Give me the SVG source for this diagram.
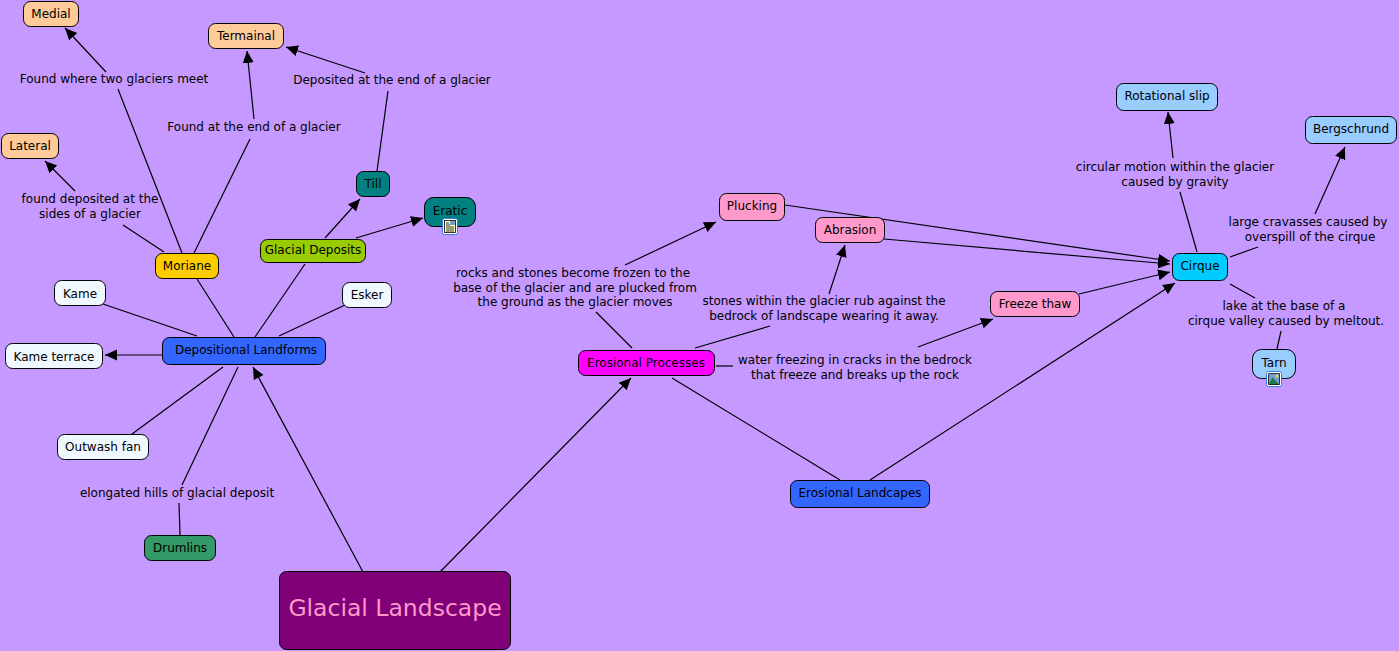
<svg xmlns="http://www.w3.org/2000/svg" width="1399" height="651" viewBox="0 0 1399 651">
<style>
text{font-family:"DejaVu Sans",Verdana,sans-serif;font-size:12px;fill:#000;text-anchor:middle}
.n rect{stroke:#000;stroke-width:1}
.n rect.ico{stroke:#3b78d8;fill:#fff}
.n rect.pap{fill:#ffffcc;stroke:#000;stroke-width:.8}
.n rect.pic{fill:#6f9fd0;stroke:none}
.c line{stroke:#000;stroke-width:1.2}
.c line.a{marker-end:url(#ah)}
</style>
<defs><marker id="ah" markerUnits="userSpaceOnUse" markerWidth="14" markerHeight="14" refX="12" refY="6" orient="auto"><path d="M0,0.500L12,6L0,11.500z" fill="#000"/></marker></defs>
<rect width="1399" height="651" fill="#c599ff"/>
<g class="c" id="connectors">
<line class="a" x1="363" y1="572" x2="253" y2="367"/>
<line class="a" x1="440" y1="572" x2="631" y2="378"/>
<line x1="234" y1="337" x2="197" y2="279"/>
<line x1="255" y1="337" x2="305" y2="264"/>
<line x1="197" y1="336" x2="103" y2="304"/>
<line x1="279" y1="336" x2="345" y2="305"/>
<line class="a" x1="162" y1="355" x2="105" y2="355"/>
<line x1="223" y1="367" x2="132" y2="434"/>
<line x1="238" y1="367" x2="182" y2="485"/>
<line x1="179" y1="503" x2="180" y2="535"/>
<line x1="164" y1="252" x2="123" y2="225"/>
<line class="a" x1="75" y1="191" x2="45" y2="161"/>
<line x1="182" y1="253" x2="118" y2="89"/>
<line class="a" x1="106" y1="72" x2="65" y2="28"/>
<line x1="194" y1="253" x2="250" y2="139"/>
<line class="a" x1="254" y1="119" x2="247" y2="51"/>
<line x1="377" y1="171" x2="388" y2="91"/>
<line class="a" x1="365" y1="73" x2="286" y2="47"/>
<line class="a" x1="325" y1="238" x2="360" y2="199"/>
<line class="a" x1="356" y1="238" x2="423" y2="218"/>
<line x1="632" y1="348" x2="596" y2="312"/>
<line class="a" x1="625" y1="265" x2="716" y2="222"/>
<line x1="695" y1="348" x2="770" y2="326"/>
<line class="a" x1="829" y1="294" x2="845" y2="245"/>
<line x1="716" y1="366" x2="733" y2="366"/>
<line class="a" x1="918" y1="347" x2="993" y2="319"/>
<line x1="672" y1="378" x2="840" y2="480"/>
<line class="a" x1="870" y1="480" x2="1175" y2="283"/>
<line class="a" x1="785" y1="205" x2="1170" y2="261"/>
<line class="a" x1="884" y1="239" x2="1170" y2="264"/>
<line class="a" x1="1079" y1="294" x2="1170" y2="272"/>
<line x1="1197" y1="252" x2="1180" y2="192"/>
<line class="a" x1="1173" y1="158" x2="1168" y2="112"/>
<line x1="1230" y1="257" x2="1258" y2="247"/>
<line class="a" x1="1315" y1="214" x2="1345" y2="147"/>
<line x1="1230" y1="284" x2="1255" y2="298"/>
<line x1="1281" y1="331" x2="1277" y2="349"/>
</g>
<g id="n-glacial" class="n"><rect x="279.500" y="571.500" width="231" height="78" rx="7" fill="#800077"/><text x="395" y="616" style="font-size:23.500px;fill:#ff99cc">Glacial Landscape</text></g>
<g id="n-dep" class="n"><rect x="162.500" y="337.500" width="163" height="27" rx="7" fill="#3366ff"/><text x="246" y="354">Depositional Landforms</text></g>
<g id="n-ero" class="n"><rect x="578.500" y="350.500" width="136" height="25" rx="7" fill="#ff00ff"/><text x="646" y="367">Erosional Processes</text></g>
<g id="n-erol" class="n"><rect x="790.500" y="480.500" width="139" height="27" rx="7" fill="#3366ff"/><text x="860" y="497">Erosional Landcapes</text></g>
<g id="n-medial" class="n"><rect x="23.500" y="1.500" width="55" height="25" rx="7" fill="#ffcc99"/><text x="51" y="18">Medial</text></g>
<g id="n-termainal" class="n"><rect x="208.500" y="23.500" width="75" height="25" rx="7" fill="#ffcc99"/><text x="246" y="40">Termainal</text></g>
<g id="n-lateral" class="n"><rect x="1.500" y="133.500" width="57" height="25" rx="7" fill="#ffcc99"/><text x="30" y="150">Lateral</text></g>
<g id="n-moriane" class="n"><rect x="155.500" y="253.500" width="63" height="25" rx="7" fill="#ffcc00"/><text x="187" y="270">Moriane</text></g>
<g id="n-gd" class="n"><rect x="260.500" y="239.500" width="105" height="23" rx="7" fill="#99cc00"/><text x="313" y="254">Glacial Deposits</text></g>
<g id="n-till" class="n"><rect x="356.500" y="171.500" width="33" height="25" rx="7" fill="#008080"/><text x="373" y="188">Till</text></g>
<g id="n-eratic" class="n"><rect x="424.500" y="197.500" width="51" height="29" rx="9" fill="#008080"/><text x="450" y="215">Eratic</text>
<rect class="ico" x="442.500" y="218.500" width="15" height="16" rx="2"/><rect class="pap" x="444.500" y="220.500" width="11" height="12"/><path d="M446,225h4M446,227h8M446,229h8M446,231h8M446,223h3" stroke="#000" fill="none" stroke-width=".8"/><rect class="pic" x="450" y="221" width="5" height="4"/></g>
<g id="n-kame" class="n"><rect x="54.500" y="280.500" width="51" height="25" rx="7" fill="#f0f8ff"/><text x="80" y="298">Kame</text></g>
<g id="n-esker" class="n"><rect x="342.500" y="282.500" width="49" height="25" rx="7" fill="#f0f8ff"/><text x="367" y="299">Esker</text></g>
<g id="n-kt" class="n"><rect x="5.500" y="343.500" width="97" height="25" rx="7" fill="#f0f8ff"/><text x="54" y="361">Kame terrace</text></g>
<g id="n-of" class="n"><rect x="57.500" y="434.500" width="91" height="25" rx="7" fill="#f0f8ff"/><text x="103" y="451">Outwash fan</text></g>
<g id="n-drumlins" class="n"><rect x="144.500" y="535.500" width="71" height="25" rx="7" fill="#339966"/><text x="180" y="552">Drumlins</text></g>
<g id="n-plucking" class="n"><rect x="719.500" y="193.500" width="65" height="27" rx="7" fill="#ff99cc"/><text x="752" y="210">Plucking</text></g>
<g id="n-abrasion" class="n"><rect x="815.500" y="217.500" width="69" height="25" rx="7" fill="#ff99cc"/><text x="850" y="234">Abrasion</text></g>
<g id="n-ft" class="n"><rect x="990.500" y="291.500" width="89" height="25" rx="7" fill="#ff99cc"/><text x="1035" y="308">Freeze thaw</text></g>
<g id="n-cirque" class="n"><rect x="1172.500" y="253.500" width="55" height="27" rx="7" fill="#00ccff"/><text x="1200" y="270">Cirque</text></g>
<g id="n-rs" class="n"><rect x="1116.500" y="83.500" width="101" height="27" rx="7" fill="#99ccff"/><text x="1167" y="100">Rotational slip</text></g>
<g id="n-berg" class="n"><rect x="1305.500" y="116.500" width="91" height="27" rx="7" fill="#99ccff"/><text x="1351" y="133">Bergschrund</text></g>
<g id="n-tarn" class="n"><rect x="1252.500" y="349.500" width="43" height="29" rx="9" fill="#99ccff"/><text x="1274" y="367">Tarn</text>
<rect class="ico" x="1266.500" y="371.500" width="15" height="15" rx="2"/><rect class="pic" x="1269" y="374" width="10" height="10"/><path d="M1268.500,384.500l4-7 6.500,7z" fill="#227744"/><circle cx="1277" cy="376" r="1.500" fill="#ffdd33"/><path d="M1268.500,373.500h11v11h-11z" fill="none" stroke="#000" stroke-width=".8"/></g>
<g id="labels">
<text x="114" y="83">Found where two glaciers meet</text>
<text x="254" y="131">Found at the end of a glacier</text>
<text x="392" y="84">Deposited at the end of a glacier</text>
<text x="90" y="203">found deposited at the</text><text x="90" y="218">sides of a glacier</text>
<text x="177" y="497">elongated hills of glacial deposit</text>
<text x="573" y="277">rocks and stones become frozen to the</text><text x="575" y="292">base of the glacier and are plucked from</text><text x="575" y="306">the ground as the glacier moves</text>
<text x="824" y="305">stones within the glacier rub against the</text><text x="824" y="320">bedrock of landscape wearing it away.</text>
<text x="855" y="364">water freezing in cracks in the bedrock</text><text x="855" y="379">that freeze and breaks up the rock</text>
<text x="1175" y="171">circular motion within the glacier</text><text x="1175" y="186">caused by gravity</text>
<text x="1308" y="226">large cravasses caused by</text><text x="1310" y="241">overspill of the cirque</text>
<text x="1284" y="310">lake at the base of a</text><text x="1286" y="325">cirque valley caused by meltout.</text>
</g>
</svg>
